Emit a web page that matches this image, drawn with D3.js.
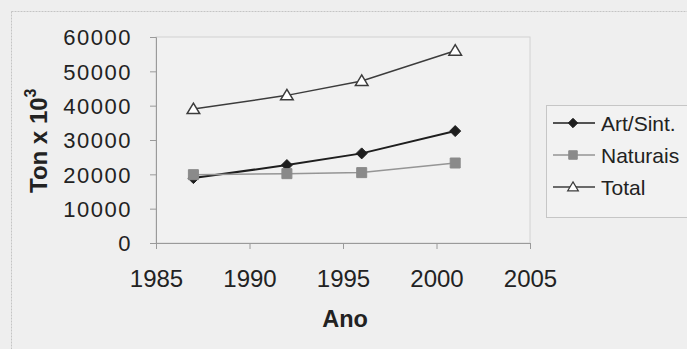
<!DOCTYPE html>
<html>
<head>
<meta charset="utf-8">
<script src="https://cdn.jsdelivr.net/npm/d3@7"></script>
<style>
  html, body { margin: 0; padding: 0; background: #eeeeee; }
  svg { display: block; font-family: "Liberation Sans", Arial, sans-serif; }
</style>
</head>
<body>
<svg id="chart" width="687" height="349"></svg>
<script>
// Production by type of fibre (thousand tonnes)
const years = [1987, 1992, 1996, 2001];
const artSint = [18900, 22700, 26100, 32600];
const naturais = [19900, 20200, 20500, 23300];
const total = [39000, 43000, 47200, 56000];
const seriesNames = ["Art/Sint.", "Naturais", "Total"];
const xTicks = [1985, 1990, 1995, 2000, 2005];
const yTicks = [0, 10000, 20000, 30000, 40000, 50000, 60000];

const svg = d3.select("#chart");
const W = 687, H = 349;

// outer chart frame
svg.append("rect").attr("x", 0).attr("y", 0).attr("width", W).attr("height", H).attr("fill", "#eeeeee");
svg.append("rect").attr("x", 11.5).attr("y", 11.5).attr("width", W).attr("height", H)
  .attr("fill", "#efefef").attr("stroke", "#c4c4c4").attr("stroke-dasharray", "2,1");

const plot = { left: 156, right: 530, top: 37, bottom: 243 };

const x = d3.scaleLinear().domain([1985, 2005]).range([plot.left, plot.right]);
const y = d3.scaleLinear().domain([0, 60000]).range([plot.bottom, plot.top]);

// plot area
svg.append("rect").attr("x", plot.left).attr("y", plot.top)
  .attr("width", plot.right - plot.left).attr("height", plot.bottom - plot.top)
  .attr("fill", "#f1f1f1").attr("stroke", "#d2d2d2");

// axes
const yAxis = svg.append("g").attr("transform", `translate(${plot.left},0)`)
  .call(d3.axisLeft(y).tickValues(yTicks).tickSize(6).tickPadding(18).tickFormat(d3.format("d")));
const xAxis = svg.append("g").attr("transform", `translate(0,${plot.bottom})`)
  .call(d3.axisBottom(x).tickValues(xTicks).tickSize(6).tickPadding(21).tickFormat(d3.format("d")));

[yAxis, xAxis].forEach(g => {
  g.select(".domain").attr("stroke", "#9a9a9a");
  g.selectAll(".tick line").attr("stroke", "#9a9a9a");
  g.selectAll(".tick text").attr("fill", "#222")
    .attr("font-family", "'Liberation Sans', Arial, sans-serif");
});
yAxis.selectAll(".tick text").attr("font-size", 22).attr("dy", "0.36em").attr("letter-spacing", 1.5);
xAxis.selectAll(".tick text").attr("font-size", 24).attr("dy", "0.71em");

// axis titles
svg.append("text").attr("x", 345).attr("y", 327).attr("text-anchor", "middle")
  .attr("font-size", 23.5).attr("font-weight", "bold").attr("fill", "#222").text("Ano");

const yt = svg.append("text").attr("transform", "translate(47,193) rotate(-90)")
  .attr("font-size", 24).attr("font-weight", "bold").attr("fill", "#222");
yt.append("tspan").text("Ton x 10");
yt.append("tspan").attr("font-size", 16).attr("dy", -11).text("3");

// series
const data = [
  { name: seriesNames[0], values: artSint, stroke: "#1e1e1e", width: 2, marker: "diamond", fill: "#1e1e1e" },
  { name: seriesNames[1], values: naturais, stroke: "#959595", width: 1.5, marker: "square", fill: "#8a8a8a" },
  { name: seriesNames[2], values: total, stroke: "#3c3c3c", width: 1.5, marker: "triangle", fill: "#ffffff" }
];

// marker shapes: square diamond, square, open triangle
const markerPath = {
  diamond: r => `M0,${-r}L${r},0L0,${r}L${-r},0Z`,
  square: r => `M${-r},${-r}H${r}V${r}H${-r}Z`,
  triangle: r => `M0,${-r}L${r * 1.05},${r * 0.75}L${-r * 1.05},${r * 0.75}Z`
};
const markerSize = { diamond: 5.5, square: 5, triangle: 6 };

const line = d3.line().x(d => x(d[0])).y(d => y(d[1]));

data.forEach(s => {
  const pts = years.map((yr, i) => [yr, s.values[i]]);
  svg.append("path").datum(pts).attr("d", line)
    .attr("fill", "none").attr("stroke", s.stroke).attr("stroke-width", s.width);
  svg.selectAll(null).data(pts).enter().append("path")
    .attr("transform", d => `translate(${x(d[0])},${y(d[1])})`)
    .attr("d", markerPath[s.marker](markerSize[s.marker]))
    .attr("fill", s.fill).attr("stroke", s.marker === "triangle" ? "#3c3c3c" : s.fill)
    .attr("stroke-width", s.marker === "triangle" ? 1.5 : 1);
});

// legend
const legend = svg.append("g");
legend.append("rect").attr("x", 546.5).attr("y", 105.5).attr("width", 160).attr("height", 112)
  .attr("fill", "#f2f2f2").attr("stroke", "#c6c6c6");
data.forEach((s, i) => {
  const cy = 123 + i * 32;
  const g = legend.append("g");
  g.append("line").attr("x1", 553).attr("x2", 595).attr("y1", cy).attr("y2", cy)
    .attr("stroke", s.stroke).attr("stroke-width", 1.5);
  g.append("path").attr("transform", `translate(573,${cy})`)
    .attr("d", markerPath[s.marker](markerSize[s.marker] * 0.85))
    .attr("fill", s.fill).attr("stroke", s.marker === "triangle" ? "#3c3c3c" : s.fill)
    .attr("stroke-width", s.marker === "triangle" ? 1.2 : 1);
  g.append("text").attr("x", 601).attr("y", cy + 8).attr("font-size", 21)
    .attr("fill", "#222").text(s.name);
});
</script>
</body>
</html>
